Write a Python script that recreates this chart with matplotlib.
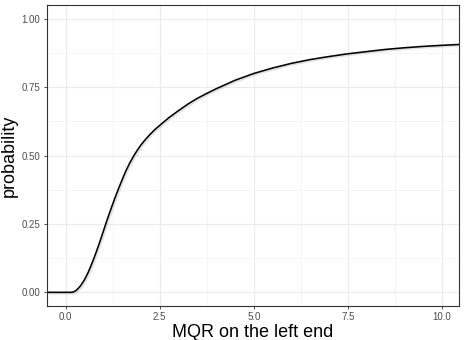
import numpy as np
import matplotlib
matplotlib.use('Agg')
import matplotlib.pyplot as plt
import matplotlib.patheffects as pe
from matplotlib.ticker import MultipleLocator


# values
mqr = [-0.49, 0.0, 0.15, 0.2, 0.25, 0.3, 0.35, 0.4, 0.5, 0.6, 0.7, 0.8, 0.9,
       1.0, 1.1, 1.2, 1.3, 1.4, 1.5, 1.6, 1.7, 1.8, 1.9, 2.0, 2.125, 2.25,
       2.375, 2.5, 2.75, 3.0, 3.25, 3.5, 3.75, 4.0, 4.5, 5.0, 5.5, 6.0,
       6.5, 7.0, 7.5, 8.0, 8.5, 9.0, 9.5, 10.0, 10.45]
prob = [0.0, 0.0, 0.0, 0.001, 0.004, 0.009, 0.016, 0.024, 0.045, 0.072,
        0.105, 0.141, 0.180, 0.221, 0.263, 0.302, 0.340, 0.376, 0.410,
        0.443, 0.471, 0.496, 0.518, 0.538, 0.559, 0.578, 0.595, 0.610,
        0.639, 0.664, 0.688, 0.709, 0.727, 0.744, 0.775, 0.800, 0.820,
        0.837, 0.851, 0.862, 0.872, 0.880, 0.888, 0.894, 0.899, 0.903, 0.906]

x_ticks = [0.0, 2.5, 5.0, 7.5, 10.0]
y_ticks = [0.0, 0.25, 0.5, 0.75, 1.0]

plt.rcParams['font.family'] = ['Liberation Sans', 'DejaVu Sans']

fig = plt.figure(figsize=(4.65, 3.4), dpi=100)
ax = fig.add_axes([0.1004, 0.1, 0.8866, 0.885])

ax.plot(mqr, prob, color='black', lw=1.15, solid_capstyle='butt',
        solid_joinstyle='round',
        path_effects=[pe.SimpleLineShadow(offset=(1.0, -1.0), shadow_color='grey', alpha=0.25),
                      pe.Normal()])

ax.set_xlim(-0.5, 10.45)
ax.set_ylim(-0.05, 1.05)
ax.set_xticks(x_ticks)
ax.set_xticklabels(['%.1f' % v for v in x_ticks])
ax.set_yticks(y_ticks)
ax.set_yticklabels(['%.2f' % v for v in y_ticks])
ax.xaxis.set_minor_locator(MultipleLocator(1.25))
ax.yaxis.set_minor_locator(MultipleLocator(0.125))

ax.grid(which='major', color='#EBEBEB', lw=0.8)
ax.grid(which='minor', color='#F3F3F3', lw=0.5)
ax.set_axisbelow(True)

ax.tick_params(which='major', length=2.5, width=0.6, color='#333333',
               labelsize=7, labelcolor='#4D4D4D', pad=2)
ax.tick_params(which='minor', length=0)
for s in ax.spines.values():
    s.set_color('#333333')
    s.set_linewidth(0.8)

ax.set_xlabel('MQR on the left end', fontsize=13, labelpad=1)
ax.set_ylabel('probability', fontsize=13, labelpad=3)

fig.savefig('out.png', dpi=100)
